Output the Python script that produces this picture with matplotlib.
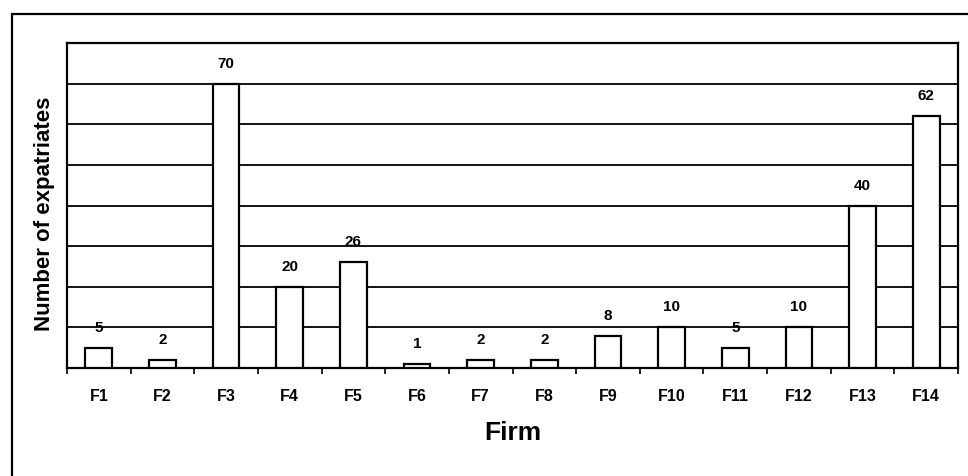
import numpy as np
import matplotlib.pyplot as plt
from matplotlib.patches import Rectangle

# firms and number of expatriates per firm
firms = ['F1', 'F2', 'F3', 'F4', 'F5', 'F6', 'F7', 'F8', 'F9', 'F10', 'F11', 'F12', 'F13', 'F14']
expatriates = [5, 2, 70, 20, 26, 1, 2, 2, 8, 10, 5, 10, 40, 62]
grid_levels = [10, 20, 30, 40, 50, 60, 70]

plt.rcParams['font.family'] = ['Liberation Sans', 'DejaVu Sans']

fig = plt.figure(figsize=(9.68, 4.76), dpi=100)
ax = fig.add_axes([67/968, 1 - 368/476, (958-67)/968, (368-43)/476])

x = np.arange(len(firms))
ax.bar(x, expatriates, width=0.42, color='white', edgecolor='black', linewidth=1.6, zorder=3)

# horizontal grid lines (no y tick labels in the original)
for g in grid_levels:
    ax.axhline(g, color='black', linewidth=1.3, zorder=1)

for xi, v in zip(x, expatriates):
    ax.text(xi, v + 3.2, str(v), ha='center', va='bottom', fontsize=11, fontweight='bold')

ax.set_xlim(-0.5, len(firms) - 0.5)
ax.set_ylim(0, 80)
ax.set_yticks([])
ax.set_xticks(x)
ax.set_xticklabels(firms, fontsize=11.5, fontweight='bold')
ax.tick_params(axis='x', length=0, pad=15)
ax.set_xticks(np.arange(len(firms) + 1) - 0.5, minor=True)
ax.tick_params(axis='x', which='minor', length=4, width=1.2, direction='out')
for s in ax.spines.values():
    s.set_linewidth(1.6)

ax.set_xlabel('Firm', fontsize=19, fontweight='bold', labelpad=12)
ax.set_ylabel('Number of expatriates', fontsize=16, fontweight='bold')
ax.yaxis.set_label_coords(-0.013, 0.475)

# outer frame around the figure, running off the right and bottom edges
fig.add_artist(Rectangle((12/968, -0.1), 1.2, 1 - 14/476 + 0.1, transform=fig.transFigure,
                         fill=False, edgecolor='black', linewidth=1.6))

fig.savefig('out.png', dpi=100)
